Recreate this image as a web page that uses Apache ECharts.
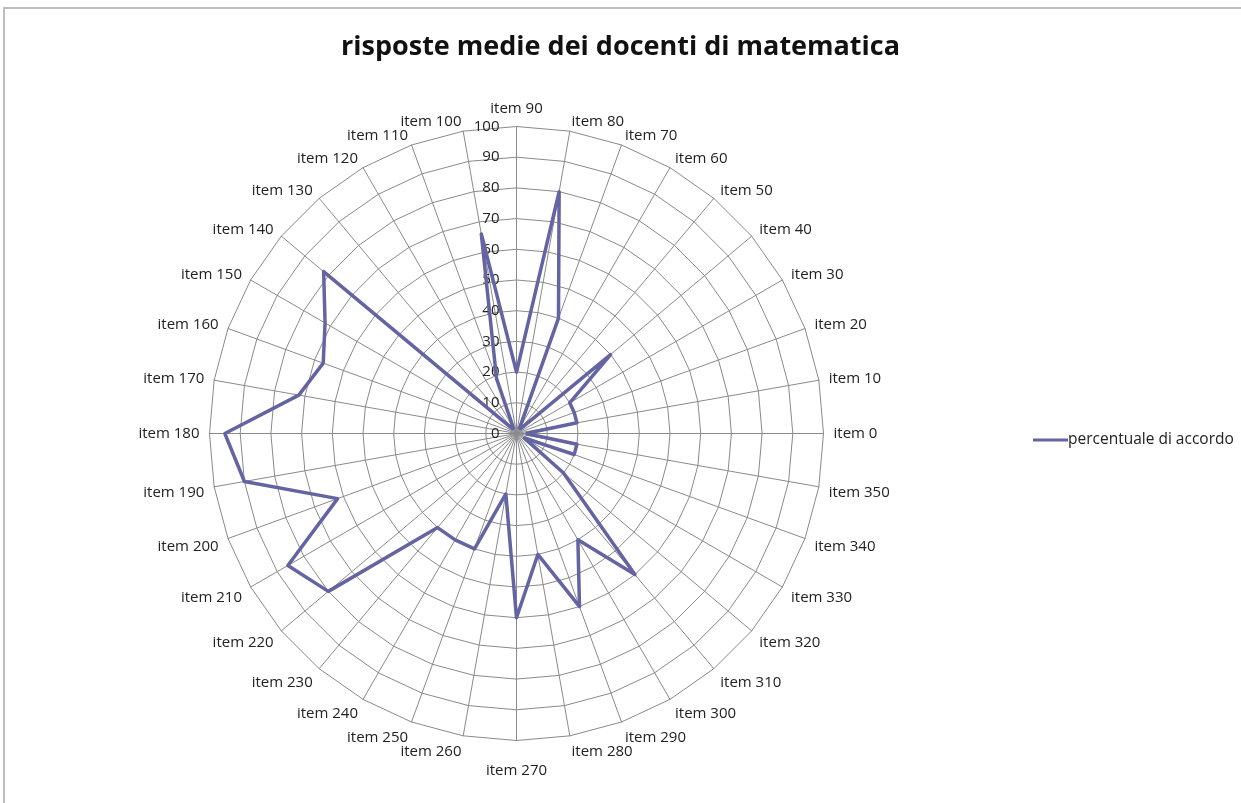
<!DOCTYPE html>
<html>
<head>
<meta charset="utf-8">
<script src="https://cdn.jsdelivr.net/npm/echarts@6/dist/echarts.min.js"></script>
<style>
html,body{margin:0;padding:0;background:#fff;}
#chart{width:1241px;height:803px;}
</style>
</head>
<body>
<div id="chart"></div>
<script>
// categories (counter-clockwise from the right)
const categories = ['item 0','item 10','item 20','item 30','item 40','item 50','item 60','item 70','item 80','item 90',
  'item 100','item 110','item 120','item 130','item 140','item 150','item 160','item 170','item 180','item 190',
  'item 200','item 210','item 220','item 230','item 240','item 250','item 260','item 270','item 280','item 290',
  'item 300','item 310','item 320','item 330','item 340','item 350'];
// series values: percentuale di accordo
const accordo = [3,20,20,20,40,2,2,40,80,20,
  66,19,2,2,82,72,67,72,95,90,
  62,86,80,40,40,40,20,60,40,60,
  40,60,20,3,20,20];
const seriesName = 'percentuale di accordo';
const titleText = 'risposte medie dei docenti di matematica';
const axisMax = 100;
const axisSplit = 10;

const FONT = 'Open Sans';
const chart = echarts.init(document.getElementById('chart'));
const indicator = categories.map((c, i) => {
  const o = { name: c, max: axisMax, min: 0 };
  if (c === 'item 90') o.axisLabel = { show: true };
  return o;
});
// extra spacing for the lower labels (as in the original layout)
const rich = {};
for (let p = 0; p <= 14; p++) {
  rich['p' + p] = { fontFamily: FONT, fontSize: 15, color: '#222', padding: [p, 0, 0, 0] };
}
chart.setOption({
  animation: false,
  backgroundColor: '#fff',
  title: {
    text: titleText,
    left: 'center',
    top: 29,
    textStyle: { fontFamily: FONT, fontWeight: 'bold', fontSize: 27, color: '#111' }
  },
  legend: {
    left: 1028,
    top: 427,
    orient: 'vertical',
    icon: 'rect',
    itemWidth: 35,
    itemHeight: 3,
    itemGap: 2,
    textStyle: { fontFamily: FONT, fontSize: 15.5, color: '#222', padding: [0, 0, 0, -5] },
    data: [seriesName]
  },
  radar: {
    center: [516.5, 433.5],
    radius: 307,
    startAngle: 0,
    shape: 'polygon',
    splitNumber: axisSplit,
    indicator: indicator,
    axisName: {
      color: '#222', fontFamily: FONT, fontSize: 15,
      formatter: function (name) {
        const i = categories.indexOf(name);
        const s = Math.sin(i * 10 * Math.PI / 180);
        const p = s < -0.1 ? Math.round(8 + (-s) * 5) : 0;
        return '{p' + p + '|' + name + '}';
      },
      rich: rich
    },
    nameGap: 10,
    axisLine: { lineStyle: { color: '#8a8a8a', width: 1 } },
    splitLine: { lineStyle: { color: '#8a8a8a', width: 1 } },
    splitArea: { show: false },
    axisTick: { show: false },
    axisLabel: { show: false, color: '#222', fontFamily: FONT, fontSize: 15, margin: 17, padding: [6, 0, 0, 0] }
  },
  graphic: [{
    type: 'rect',
    shape: { x: 4, y: 8, width: 1250, height: 820 },
    style: { fill: 'none', stroke: '#bdbdbd', lineWidth: 2 },
    silent: true
  }],
  series: [{
    type: 'radar',
    name: seriesName,
    symbol: 'none',
    lineStyle: { color: '#6464a2', width: 3.5 },
    itemStyle: { color: '#6464a2' },
    data: [{ value: accordo, name: seriesName }]
  }]
});
</script>
</body>
</html>
